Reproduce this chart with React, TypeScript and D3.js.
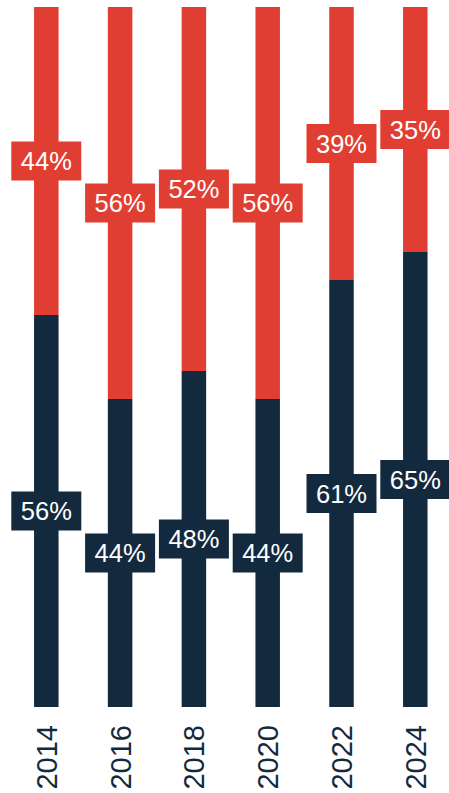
import React from "react";
import * as d3 from "d3";

const years = ["2014", "2016", "2018", "2020", "2022", "2024"];
const navyValues = [56, 44, 48, 44, 61, 65];
const redValues = [44, 56, 52, 56, 39, 35];

const W = 449;
const H = 793;
const NAVY = "#132a3e";
const RED = "#e03e33";

export default function App() {
  const x = d3
    .scaleBand<string>()
    .domain(years)
    .range([9.4, 452.2])
    .paddingInner(0.668)
    .paddingOuter(0.334);
  const y = d3.scaleLinear().domain([0, 100]).range([707, 7]);

  const rows = years.map((yr, i) => ({ yr, navy: navyValues[i], red: redValues[i] }));
  const stack = d3.stack<any>().keys(["navy", "red"])(rows);
  const colors: Record<string, string> = { navy: NAVY, red: RED };

  const boxW = 70;
  const boxH = 39;
  const fs = 25.5;

  return (
    <svg
      width={W}
      height={H}
      style={{ position: "absolute", left: 0, top: 0, fontFamily: "Liberation Sans, Arial, sans-serif" }}
    >
      {stack.map((layer) => (
        <g key={layer.key}>
          {layer.map((d, i) => (
            <rect
              key={i}
              x={x(years[i])!}
              width={x.bandwidth()}
              y={y(d[1])}
              height={y(d[0]) - y(d[1])}
              fill={colors[layer.key]}
            />
          ))}
        </g>
      ))}
      {stack.map((layer) => (
        <g key={"l" + layer.key}>
          {layer.map((d, i) => {
            const cx = x(years[i])! + x.bandwidth() / 2;
            const cy = (y(d[0]) + y(d[1])) / 2;
            const v = d[1] - d[0];
            return (
              <g key={i}>
                <rect x={cx - boxW / 2} y={cy - boxH / 2} width={boxW} height={boxH} fill={colors[layer.key]} />
                <text x={cx} y={cy + fs * 0.36} textAnchor="middle" fontSize={fs} fill="#ffffff">
                  {v + "%"}
                </text>
              </g>
            );
          })}
        </g>
      ))}
      {years.map((yr) => {
        const cx = x(yr)! + x.bandwidth() / 2;
        return (
          <text
            key={yr}
            transform={`translate(${cx + 10.5},725) rotate(-90)`}
            textAnchor="end"
            fontSize={29}
            fill={NAVY}
          >
            {yr}
          </text>
        );
      })}
    </svg>
  );
}
